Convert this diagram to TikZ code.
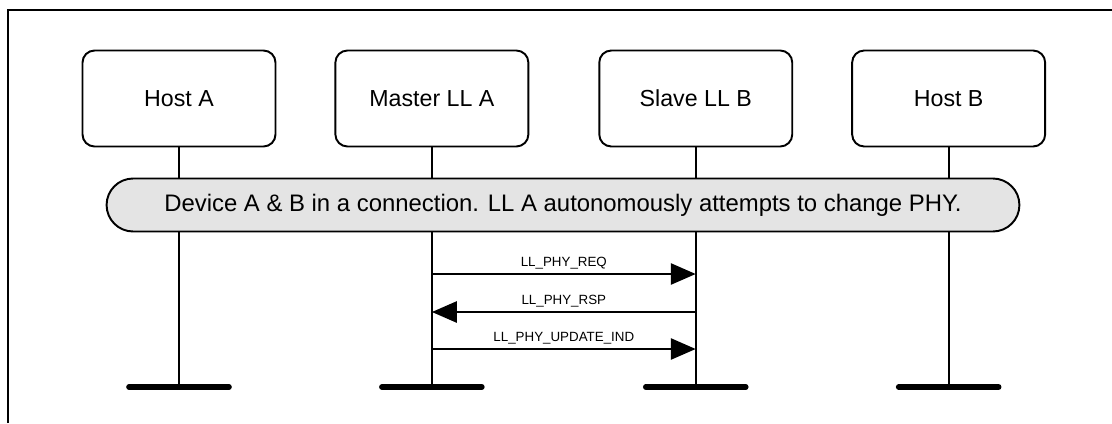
\documentclass[tikz,border=0pt]{standalone}
\usepackage{fontspec}
\setmainfont{Liberation Sans}
\usepackage{xcolor}
\usepackage{tikz}
\usetikzlibrary{positioning, arrows.meta}
\definecolor{barfill}{RGB}{228,228,228}

\begin{document}
\begin{tikzpicture}[
        x=0.02cm, y=-0.02cm,
        every node/.style={font=\fontsize{13.2}{15}\selectfont},
        entity/.style={rectangle, draw=black, fill=white, line width=1.1pt, rounded corners=0.24cm, minimum width=3.86cm, minimum height=1.92cm, inner sep=0pt},
        banner/.style={rectangle, draw=black, fill=barfill, line width=1.1pt, rounded corners=0.53cm, minimum width=18.26cm, minimum height=1.06cm, inner sep=0pt, font=\fontsize{13.6}{15}\selectfont},
        lifeline/.style={line width=1.1pt},
        foot/.style={line width=3.2pt, line cap=round},
        msg/.style={-{Triangle[length=0.5cm, width=0.42cm]}, line width=1.6pt},
        lbl/.style={font=\fontsize{7.6}{9}\selectfont, inner sep=1.8pt}
    ]
        \useasboundingbox (0,0) rectangle (1112,423);
        % Frame
        \draw[line width=1.7pt] (8,423) -- (8,10) -- (1112,10);

        % Entities
        \node[entity] (hostA) at (179,98.5) {Host A};
        \node[entity, right=1.16cm of hostA] (llA) {Master LL A};
        \node[entity, right=1.38cm of llA] (llB) {Slave LL B};
        \node[entity, right=1.16cm of llB] (hostB) {Host B};

        % Lifelines
        \coordinate (hostAfoot) at (hostA |- 0,387);
        \coordinate (llAfoot) at (llA |- 0,387);
        \coordinate (llBfoot) at (llB |- 0,387);
        \coordinate (hostBfoot) at (hostB |- 0,387);
        \draw[lifeline] (hostA) -- (hostAfoot);
        \draw[lifeline] (llA) -- (llAfoot);
        \draw[lifeline] (llB) -- (llBfoot);
        \draw[lifeline] (hostB) -- (hostBfoot);
        \draw[foot] ([xshift=-1cm]hostAfoot) -- ([xshift=1cm]hostAfoot);
        \draw[foot] ([xshift=-1cm]llAfoot) -- ([xshift=1cm]llAfoot);
        \draw[foot] ([xshift=-1cm]llBfoot) -- ([xshift=1cm]llBfoot);
        \draw[foot] ([xshift=-1cm]hostBfoot) -- ([xshift=1cm]hostBfoot);

        % Connection state
        \node[banner] (conn) at (563,205) {Device A \& B in a connection. LL A autonomously attempts to change PHY.};

        % Messages
        \coordinate (reqA) at (llA |- 0,274);
        \coordinate (reqB) at (llB |- 0,274);
        \coordinate (rspA) at (llA |- 0,312);
        \coordinate (rspB) at (llB |- 0,312);
        \coordinate (indA) at (llA |- 0,349);
        \coordinate (indB) at (llB |- 0,349);
        \draw[msg] (reqA) -- node[above, lbl] {LL\_PHY\_REQ} (reqB);
        \draw[msg] (rspB) -- node[above, lbl] {LL\_PHY\_RSP} (rspA);
        \draw[msg] (indA) -- node[above, lbl] {LL\_PHY\_UPDATE\_IND} (indB);

    \end{tikzpicture}
\end{document}
